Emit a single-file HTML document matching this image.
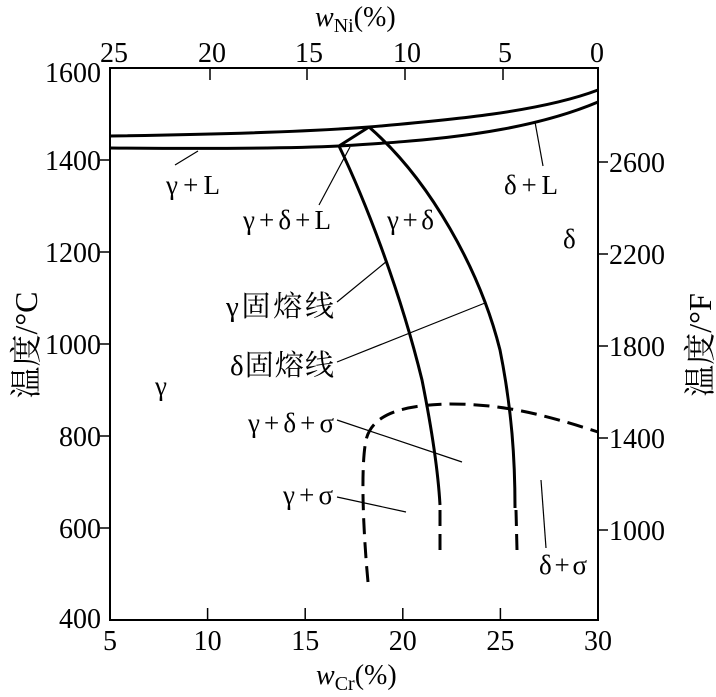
<!DOCTYPE html>
<html><head><meta charset="utf-8"><style>
body{margin:0;background:#fff}
svg text{font-family:"Liberation Serif","Noto Serif CJK SC",serif;fill:#000}
</style></head><body>
<svg width="716" height="692" viewBox="0 0 716 692" xmlns="http://www.w3.org/2000/svg">
<rect x="110" y="68" width="488" height="552" fill="none" stroke="#000" stroke-width="2"/>
<g stroke="#000" stroke-width="1.5">
<line x1="207.6" y1="620" x2="207.6" y2="608"/><line x1="305.2" y1="620" x2="305.2" y2="608"/><line x1="402.8" y1="620" x2="402.8" y2="608"/><line x1="500.4" y1="620" x2="500.4" y2="608"/>
<line x1="210" y1="68" x2="210" y2="80"/><line x1="307" y1="68" x2="307" y2="80"/><line x1="405" y1="68" x2="405" y2="80"/><line x1="503" y1="68" x2="503" y2="80"/>
<line x1="110" y1="160" x2="100" y2="160"/><line x1="110" y1="252" x2="100" y2="252"/><line x1="110" y1="344" x2="100" y2="344"/><line x1="110" y1="436" x2="100" y2="436"/><line x1="110" y1="528" x2="100" y2="528"/>
<line x1="598" y1="162" x2="608" y2="162"/><line x1="598" y1="254" x2="608" y2="254"/><line x1="598" y1="346" x2="608" y2="346"/><line x1="598" y1="438" x2="608" y2="438"/><line x1="598" y1="530" x2="608" y2="530"/>
</g>
<g font-size="28" text-anchor="middle">
<text x="110" y="650">5</text><text x="207.6" y="650">10</text><text x="305.2" y="650">15</text><text x="402.8" y="650">20</text><text x="500.4" y="650">25</text><text x="598" y="650">30</text>
<text x="114" y="62">25</text><text x="212" y="62">20</text><text x="309" y="62">15</text><text x="407" y="62">10</text><text x="505" y="62">5</text><text x="597" y="62">0</text>
</g>
<g font-size="28" text-anchor="end">
<text x="101" y="82">1600</text><text x="101" y="170">1400</text><text x="101" y="262">1200</text><text x="101" y="354">1000</text><text x="101" y="446">800</text><text x="101" y="538">600</text><text x="101" y="628">400</text>
</g>
<g font-size="28">
<text x="609" y="172">2600</text><text x="609" y="264">2200</text><text x="609" y="356">1800</text><text x="609" y="448">1400</text><text x="609" y="540">1000</text>
</g>
<text x="316" y="684" font-size="28" font-style="italic">w<tspan font-size="20" font-style="normal" dy="6">Cr</tspan><tspan font-style="normal" dy="-6">(%)</tspan></text>
<text x="315" y="26" font-size="28" font-style="italic">w<tspan font-size="20" font-style="normal" dy="6">Ni</tspan><tspan font-style="normal" dy="-6">(%)</tspan></text>
<text transform="translate(37,345) rotate(-90)" font-size="32" text-anchor="middle">温度/°C</text>
<text transform="translate(711,345) rotate(-90)" font-size="32" text-anchor="middle">温度/°F</text>
<g fill="none" stroke="#000" stroke-width="3">
<path d="M110,136 C250,134 330,130 369,127 C450,120 540,112 598,90"/>
<path d="M110,148 C230,149 300,148 339,146 C420,141 520,135 598,102"/>
<path d="M339,146 L369,127"/>
<path d="M339,146 C365,200 400,290 422,380 C432,430 438,470 440,505"/>
<path d="M369,127 C430,180 480,270 500,350 C512,410 515,460 515,508"/>
<g stroke-dasharray="16,8">
<path d="M440,510 L440,555"/><path d="M516,510 L517,550"/>
<path d="M368,582 C364,540 360,470 366,440 C372,415 400,405 450,404 C500,404 540,413 598,432"/>
</g>
</g>
<g stroke="#000" stroke-width="1.2">
<line x1="198" y1="151" x2="175" y2="165"/>
<line x1="319" y1="205" x2="350" y2="147"/>
<line x1="535" y1="122" x2="543" y2="166"/>
<line x1="337" y1="302" x2="387" y2="261"/>
<line x1="337" y1="362" x2="485" y2="303"/>
<line x1="337" y1="420" x2="462" y2="462"/>
<line x1="337" y1="497" x2="406" y2="512"/>
<line x1="541" y1="480" x2="546" y2="548"/>
</g>
<g font-size="27">
<text x="166" y="194" textLength="54">γ+L</text>
<text x="243" y="229" textLength="88">γ+δ+L</text>
<text x="387" y="229" textLength="47">γ+δ</text>
<text x="504" y="194" textLength="54">δ+L</text>
<text x="563" y="248">δ</text>
<text x="226" y="316" font-size="29" textLength="108">γ固熔线</text>
<text x="230" y="375" font-size="29" textLength="104">δ固熔线</text>
<text x="155" y="395">γ</text>
<text x="248" y="432" textLength="86">γ+δ+σ</text>
<text x="283" y="504" textLength="50">γ+σ</text>
<text x="539" y="574" textLength="48">δ+σ</text>
</g>
</svg>
</body></html>
